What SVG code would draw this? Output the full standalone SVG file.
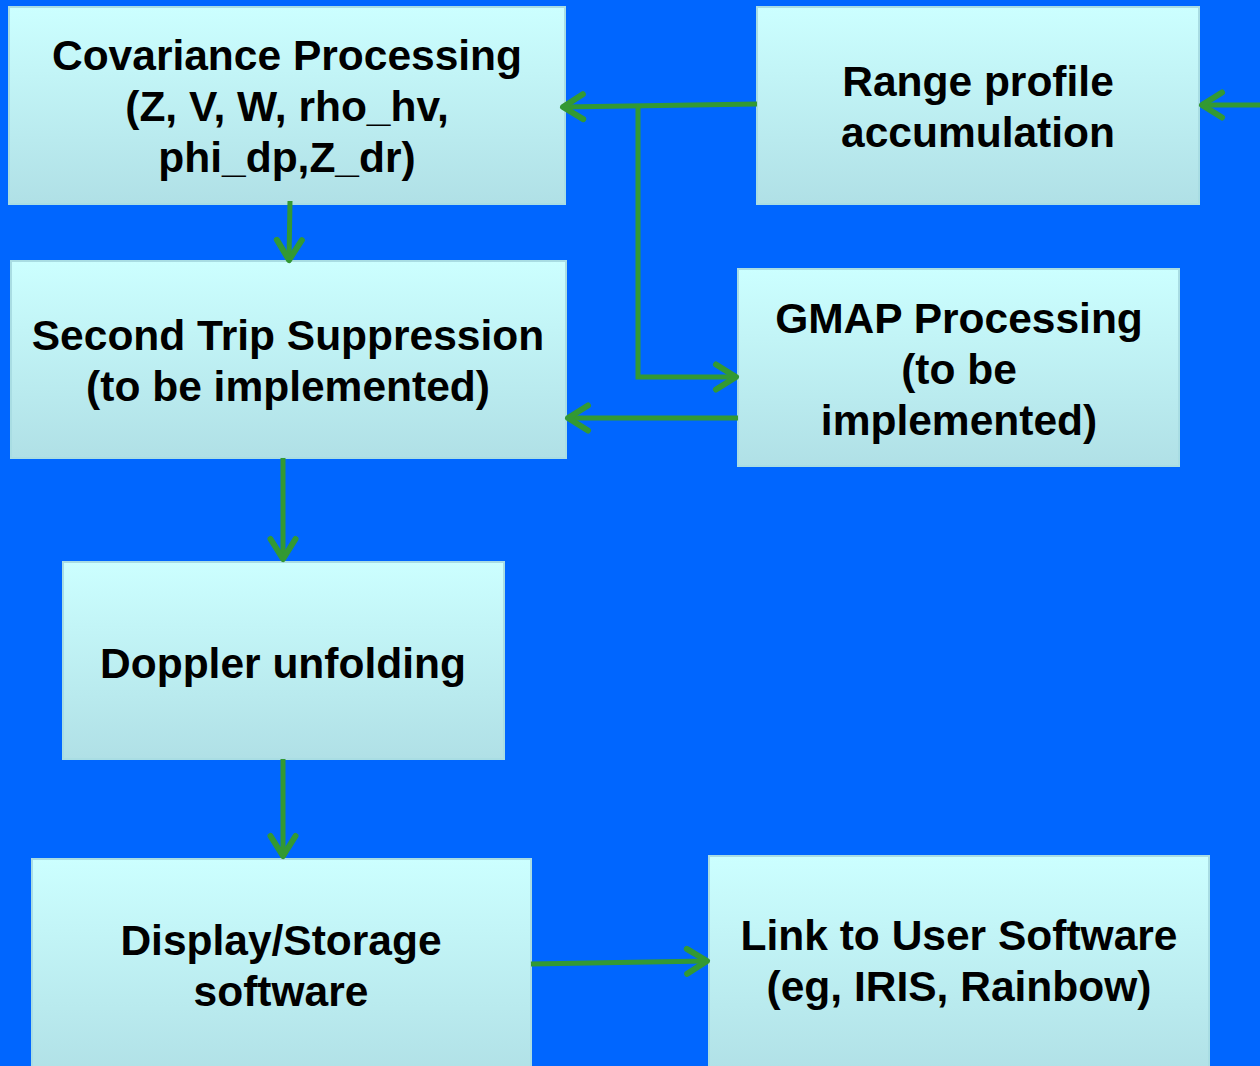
<svg xmlns="http://www.w3.org/2000/svg" width="1260" height="1066" viewBox="0 0 1260 1066">
<style>
.box{fill:url(#g);stroke:#a9dde3;stroke-width:2}
.t{font-family:"Liberation Sans",Arial,sans-serif;font-weight:bold;font-size:42.5px;fill:#000;text-anchor:middle}
.c{fill:none;stroke:#339933;stroke-width:5}
</style>
<defs>
<linearGradient id="g" x1="0" y1="0" x2="0" y2="1">
<stop offset="0" stop-color="#ccffff"/>
<stop offset="1" stop-color="#b0e0e6"/>
</linearGradient>
<marker id="a" markerUnits="userSpaceOnUse" markerWidth="32" markerHeight="32" viewBox="-24 -16 28 32" refX="0" refY="0" orient="auto">
<path d="M-20,-12.5 L0,0 L-20,12.5" fill="none" stroke="#339933" stroke-width="6" stroke-linecap="round" stroke-linejoin="round"/>
</marker>
</defs>
<rect width="1260" height="1066" fill="#0066ff"/>
<g id="n1"><rect class="box" x="9" y="7" width="556" height="197"/>
<text class="t" x="287" y="70">Covariance Processing</text>
<text class="t" x="287" y="121">(Z, V, W, rho_hv,</text>
<text class="t" x="287" y="172">phi_dp,Z_dr)</text></g>
<g id="n2"><rect class="box" x="757" y="7" width="442" height="197"/>
<text class="t" x="978" y="96">Range profile</text>
<text class="t" x="978" y="147">accumulation</text></g>
<g id="n3"><rect class="box" x="11" y="261" width="555" height="197"/>
<text class="t" x="288" y="350">Second Trip Suppression</text>
<text class="t" x="288" y="401">(to be implemented)</text></g>
<g id="n4"><rect class="box" x="738" y="269" width="441" height="197"/>
<text class="t" x="959" y="333">GMAP Processing</text>
<text class="t" x="959" y="384">(to be</text>
<text class="t" x="959" y="435">implemented)</text></g>
<g id="n5"><rect class="box" x="63" y="562" width="441" height="197"/>
<text class="t" x="283" y="678">Doppler unfolding</text></g>
<g id="n6"><rect class="box" x="32" y="859" width="499" height="220"/>
<text class="t" x="281" y="955">Display/Storage</text>
<text class="t" x="281" y="1006">software</text></g>
<g id="n7"><rect class="box" x="709" y="856" width="500" height="220"/>
<text class="t" x="959" y="950">Link to User Software</text>
<text class="t" x="959" y="1001">(eg, IRIS, Rainbow)</text></g>
<g id="connectors">
<path class="c" d="M1262,105 L1202,105" marker-end="url(#a)"/>
<path class="c" d="M757,104 L563,107" marker-end="url(#a)"/>
<path class="c" d="M638,107 L638,377 L736,377" marker-end="url(#a)"/>
<path class="c" d="M738,418 L568,418" marker-end="url(#a)"/>
<path class="c" d="M290,201 L289,260" marker-end="url(#a)"/>
<path class="c" d="M283,458 L283,559" marker-end="url(#a)"/>
<path class="c" d="M283,759 L283,856" marker-end="url(#a)"/>
<path class="c" d="M531,964 L707,961" marker-end="url(#a)"/>
</g>
</svg>
